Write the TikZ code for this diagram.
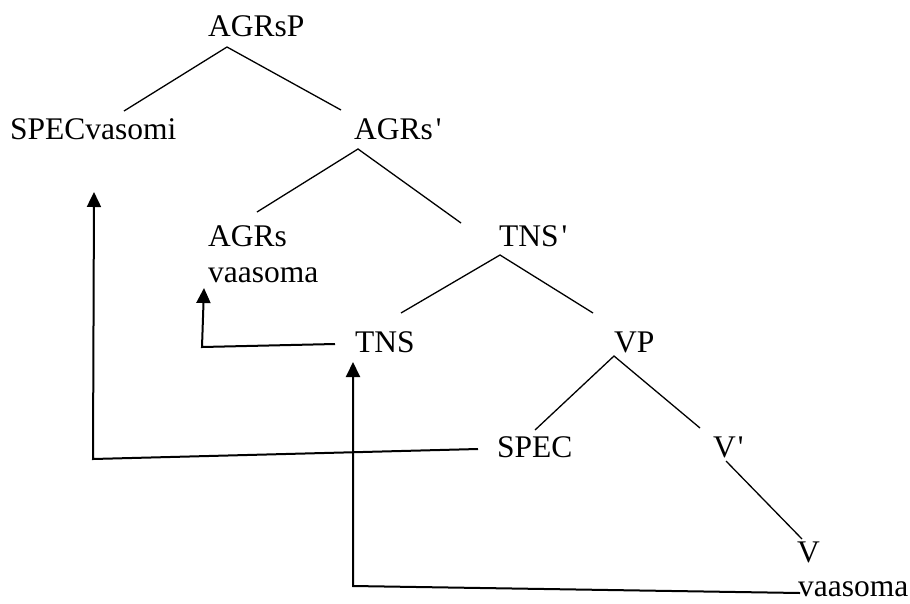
\documentclass[tikz,border=0pt]{standalone}
\usepackage{fontspec}
\setmainfont{Liberation Serif}[Ligatures=TeXOff]
\usetikzlibrary{arrows.meta}
\begin{document}
\begin{tikzpicture}[x=1pt,y=-1pt,
  lbl/.style={anchor=base west,inner sep=0pt,font=\fontsize{31.5}{36}\selectfont,align=left},
  branch/.style={line width=1.3pt},
  move/.style={line width=2pt,-{Triangle[width=14pt,length=15pt]}}]
\useasboundingbox (0,0) rectangle (910,603);

% labels of the tree (a two-line label sits on its last baseline)
\node[lbl] (agrsp)   at (208,36)  {AGRsP};
\node[lbl] (specv)   at (10,139)  {SPECvasomi};
\node[lbl] (agrsbar) at (354,139) {AGRs\kern3pt'};
\node[lbl] (agrs)    at (208,282) {AGRs\\vaasoma};
\node[lbl] (tnsbar)  at (499,246) {TNS\kern3pt'};
\node[lbl] (tns)     at (355,352) {TNS};
\node[lbl] (vp)      at (614,352) {VP};
\node[lbl] (spec)    at (497,457) {SPEC};
\node[lbl] (vbar)    at (713,457) {V\kern2pt'};
\node[lbl] (v)       at (797,562) {V};
\node[lbl] (vaas)    at (798,596) {vaasoma};

% branch end points
\coordinate (agrsp-b) at (227,47);
\coordinate (specv-t) at (124,111);
\coordinate (agrsbar-t) at (341,110);
\coordinate (agrsbar-b) at (358,149);
\coordinate (agrs-t) at (257,212);
\coordinate (tnsbar-t) at (461,223);
\coordinate (tnsbar-b) at (500,255);
\coordinate (tns-t) at (401,313);
\coordinate (vp-t) at (593,313);
\coordinate (vp-b) at (614,356);
\coordinate (spec-t) at (535,430);
\coordinate (vbar-t) at (700,428);
\coordinate (vbar-b) at (726,461);
\coordinate (v-t) at (802,539);

\draw[branch] (specv-t) -- (agrsp-b) -- (agrsbar-t);
\draw[branch] (agrs-t) -- (agrsbar-b) -- (tnsbar-t);
\draw[branch] (tns-t) -- (tnsbar-b) -- (vp-t);
\draw[branch] (spec-t) -- (vp-b) -- (vbar-t);
\draw[branch] (vbar-b) -- (v-t);

% movement arrows
\coordinate (spec-from) at (478,449);
\coordinate (spec-turn) at (93,459);
\coordinate (specv-to) at (94,192);
\coordinate (tns-from) at (335,344);
\coordinate (tns-turn) at (202,347);
\coordinate (agrs-to) at (204,288);
\coordinate (vaas-from) at (800,593);
\coordinate (vaas-turn) at (353,586);
\coordinate (tns-to) at (353,362);

\draw[move] (spec-from) -- (spec-turn) -- (specv-to);
\draw[move] (tns-from) -- (tns-turn) -- (agrs-to);
\draw[move] (vaas-from) -- (vaas-turn) -- (tns-to);
\end{tikzpicture}
\end{document}
